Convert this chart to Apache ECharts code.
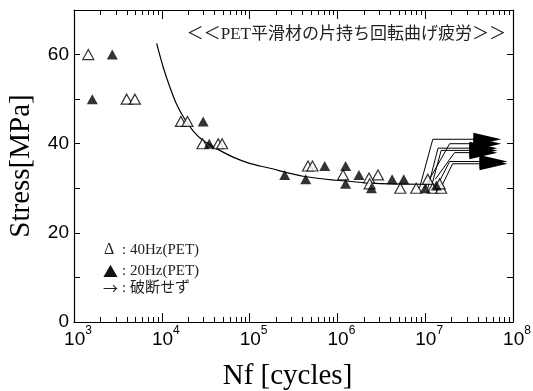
<!DOCTYPE html>
<html>
<head>
<meta charset="utf-8">
<script src="https://cdn.jsdelivr.net/npm/echarts@6/dist/echarts.min.js"></script>
<style>
html, body { margin: 0; padding: 0; background: #fff; }
#chart1 { width: 533px; height: 391px; }
</style>
</head>
<body>
<div id="chart1"></div>
<script>
// 40Hz (open triangles)
var open40N = [1455, 3980, 4940, 16500, 19600, 29100, 43900, 48600, 463000, 520000, 1160000, 2290000, 2330000, 2900000, 5200000, 7900000, 10700000, 12200000, 15200000, 14600000];
var open40S = [60, 50, 50, 45, 45, 40, 40, 40, 35, 35, 33, 32.3, 31, 33, 30, 30, 32, 30, 30, 31];
// 20Hz (filled triangles)
var fill20N = [1616, 2730, 29600, 34700, 251000, 436000, 717000, 1240000, 1240000, 1760000, 2440000, 4200000, 5700000, 10000000, 13400000];
var fill20S = [50, 60, 45, 40, 33, 32, 35, 35, 31, 33, 30, 32, 32, 30, 30.6];
// S-N curve
var curveN = [8730, 10400, 12400, 14700, 17500, 22700, 29600, 42000, 64900, 100000, 162000, 406000, 975000, 2780000, 9800000];
var curveS = [62.5, 57.1, 52.6, 48.9, 46.1, 42.9, 40.7, 38.9, 37.0, 35.6, 34.6, 32.7, 31.8, 31.1, 30.9];
// run-outs (no failure): start, knee, arrow end
var runN0 = [8600000, 9800000, 10700000, 12000000, 13000000, 14000000, 15000000];
var runS0 = [30, 30, 30, 31, 32, 31, 30];
var runN1 = [12200000, 19000000, 14000000, 15200000, 21600000, 19000000, 20500000];
var runS1 = [41, 40, 39, 38.5, 38, 36, 35.5];
var runNend = [51000000, 51000000, 46000000, 46000000, 46000000, 60000000, 60000000];
// tick labels
var xDecades = [1e3, 1e4, 1e5, 1e6, 1e7, 1e8];
var xExponents = ['3', '4', '5', '6', '7', '8'];

var xMinor = [];
for (var i = 0; i < xDecades.length - 1; i++) {
	for (var k = 2; k <= 9; k++) xMinor.push(k * xDecades[i]);
}

function pairs(a, b) {
	return a.map(function (v, i) { return [v, b[i]]; });
}

var labelFont = 'Liberation Sans, Arial, sans-serif';
var serifFont = 'Liberation Serif, Times New Roman, serif';

function xAxisDef(pos, major) {
	return {
		type: 'log',
		logBase: 10,
		min: 1e3,
		max: 1e8,
		position: pos,
		axisLine: { show: major, onZero: false, lineStyle: { color: '#000', width: 1.2 } },
		axisTick: {
			show: true,
			inside: true,
			length: major ? 9 : 5,
			customValues: major ? xDecades : xMinor,
			lineStyle: { color: '#000', width: 1 }
		},
		axisLabel: {
			show: major && pos === 'bottom',
			customValues: xDecades,
			margin: 3,
			padding: [0, 0, 0, 8],
			formatter: function (v) {
				var idx = xDecades.findIndex(function (d) { return Math.abs(d - v) / d < 1e-6; });
				return '{b|10}{s|' + (idx >= 0 ? xExponents[idx] : '') + '}';
			},
			rich: {
				b: { fontFamily: labelFont, fontSize: 19, color: '#000', verticalAlign: 'bottom', lineHeight: 24 },
				s: { fontFamily: labelFont, fontSize: 12, color: '#000', verticalAlign: 'top', lineHeight: 24, padding: [0, 0, 12, 0] }
			}
		},
		splitLine: { show: false },
		name: major && pos === 'bottom' ? 'Nf [cycles]' : '',
		nameLocation: 'middle',
		nameGap: 40,
		nameTextStyle: { fontFamily: serifFont, fontSize: 29, color: '#000', padding: [0, 12, 0, 0] }
	};
}

function yAxisDef(pos) {
	return {
		type: 'value',
		min: 0,
		max: 70,
		interval: 10,
		position: pos,
		axisLine: { show: true, onZero: false, lineStyle: { color: '#000', width: 1.2 } },
		axisTick: { show: true, inside: true, length: 6, lineStyle: { color: '#000' } },
		axisLabel: {
			show: pos === 'left',
			margin: 5,
			fontFamily: labelFont,
			fontSize: 19,
			color: '#000',
			formatter: function (v) { return v % 20 === 0 && v < 70 ? String(v) : ''; }
		},
		splitLine: { show: false },
		name: pos === 'left' ? 'Stress[MPa]' : '',
		nameLocation: 'middle',
		nameGap: 38,
		nameTextStyle: { fontFamily: serifFont, fontSize: 29, color: '#000' }
	};
}

var series = [{
	type: 'line',
	data: pairs(curveN, curveS),
	smooth: 0.3,
	symbol: 'none',
	lineStyle: { color: '#000', width: 1.2 },
	z: 2
}];

runN0.forEach(function (n0, i) {
	series.push({
		type: 'line',
		symbol: 'none',
		lineStyle: { color: '#000', width: 1 },
		z: 2,
		data: [
			[n0, runS0[i]],
			[runN1[i], runS1[i]],
			{ value: [runNend[i], runS1[i]], symbol: 'triangle', symbolSize: [13, 28], symbolRotate: -90 }
		],
		itemStyle: { color: '#000' }
	});
});

series.push({
	type: 'scatter',
	data: pairs(open40N, open40S),
	symbol: 'triangle',
	symbolSize: [11, 10],
	itemStyle: { color: '#fff', borderColor: '#000', borderWidth: 1.2 },
	z: 3
});
series.push({
	type: 'scatter',
	data: pairs(fill20N, fill20S),
	symbol: 'triangle',
	symbolSize: [11, 10],
	itemStyle: { color: '#000' },
	z: 4
});

var legendFont = '15px "Liberation Serif", "Noto Sans CJK JP", serif';
var symFont = '15px "Noto Sans CJK JP", sans-serif';

var option = {
	animation: false,
	backgroundColor: '#fff',
	grid: { left: 74, right: 20, top: 10, bottom: 69, containLabel: false, outerBoundsMode: 'none' },
	xAxis: [xAxisDef('bottom', true), xAxisDef('bottom', false), xAxisDef('top', true), xAxisDef('top', false)],
	yAxis: [yAxisDef('left'), yAxisDef('right')],
	series: series,
	graphic: [{
		type: 'text',
		right: 27,
		top: 26,
		style: {
			text: '＜＜PET平滑材の片持ち回転曲げ疲労＞＞',
			font: '17px "Liberation Serif", "Noto Sans CJK JP", serif',
			fill: '#222'
		}
	},
	{ type: 'text', left: 104, top: 242, style: { text: 'Δ', font: '16px "Liberation Serif", serif', fill: '#222' } },
	{ type: 'text', left: 103, top: 264, style: { text: '▲', font: symFont, fill: '#111' } },
	{ type: 'text', left: 103, top: 281, style: { text: '→', font: symFont, fill: '#222' } },
	{ type: 'text', left: 122, top: 243, style: { text: ': 40Hz(PET)', font: legendFont, fill: '#222' } },
	{ type: 'text', left: 122, top: 264, style: { text: ': 20Hz(PET)', font: legendFont, fill: '#222' } },
	{ type: 'text', left: 122, top: 281, style: { text: ': 破断せず', font: legendFont, fill: '#222' } }
	]
};

var chart1 = echarts.init(document.getElementById('chart1'));
chart1.setOption(option);
</script>
</body>
</html>
